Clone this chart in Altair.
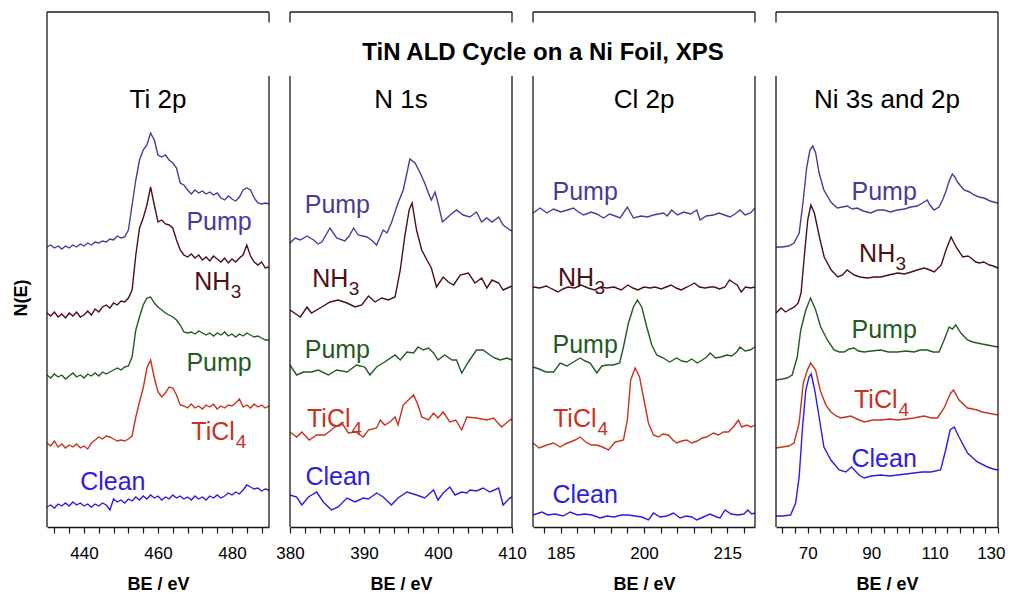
import json
import altair as alt
import pandas as pd

FONT = "Liberation Sans, Arial, Helvetica, sans-serif"
W, H = 222, 515
FRAME = "#1a1a1a"

SERIES = ["Clean", "TiCl4", "Pump1", "NH3", "Pump2"]
COLORS = ["#2d1be6", "#c8321e", "#1f5b23", "#4b1014", "#4a3a9a"]
MAIN_TEXT = ["Clean", "TiCl", "Pump", "NH", "Pump"]
SUB_TEXT = ["", "4", "", "3", ""]

# ---------------- Ti 2p ----------------
TI_BE = list(range(430, 491))
TI_CLEAN = [20, 22, 19, 23, 21, 24, 21, 25, 22, 24, 21, 23, 20, 23, 21, 24, 22, 17, 28, 25,
            27, 24, 28, 26, 30, 27, 31, 28, 32, 29, 31, 27, 30, 28, 32, 29, 31, 28, 30, 27,
            31, 28, 30, 27, 31, 29, 32, 29, 31, 34, 32, 35, 33, 37, 42, 40, 38, 39, 36, 38, 37]
TI_TICL4 = [84, 81, 86, 80, 83, 79, 82, 80, 83, 79, 81, 78, 84, 87, 90, 88, 91, 90, 88, 86,
            87, 86, 88, 91, 110, 125, 139, 159, 167, 149, 135, 130, 134, 140, 139, 132, 122, 121, 119, 123,
            119, 121, 118, 122, 120, 123, 118, 121, 119, 122, 121, 124, 128, 120, 122, 119, 123, 120, 122, 119, 121]
TI_PUMP1 = [152, 149, 153, 150, 152, 148, 151, 154, 150, 152, 149, 153, 151, 154, 151, 155, 153, 155, 157, 159,
            157, 160, 161, 170, 197, 210, 222, 229, 230, 224, 220, 217, 214, 212, 210, 207, 202, 195, 194, 195,
            193, 196, 194, 192, 194, 191, 194, 192, 195, 191, 193, 190, 193, 191, 194, 192, 190, 191, 189, 187, 187]
TI_NH3 = [214, 211, 215, 210, 213, 209, 214, 211, 215, 210, 212, 216, 212, 218, 215, 220, 222, 219, 224, 222,
          226, 225, 229, 237, 272, 299, 309, 322, 340, 322, 305, 307, 303, 302, 299, 287, 277, 272, 270, 273,
          269, 272, 267, 270, 266, 271, 268, 265, 269, 264, 268, 265, 269, 272, 282, 271, 265, 262, 265, 259, 260]
TI_PUMP2 = [280, 282, 279, 281, 278, 281, 279, 282, 280, 283, 281, 284, 282, 285, 284, 286, 285, 288, 287, 291,
            289, 290, 297, 322, 347, 367, 377, 382, 394, 387, 372, 370, 372, 367, 364, 359, 344, 342, 337, 333,
            337, 334, 336, 333, 335, 332, 334, 329, 327, 331, 328, 326, 330, 337, 339, 337, 329, 324, 323, 324, 323]
TI_LABEL_BE = [447.8, 469.0, 476.5, 469.8, 476.5]
TI_LABEL_N = [37, 87, 156, 237, 297]
TI_TICKS = [432, 436, 440, 444, 448, 452, 456, 460, 464, 468, 472, 476, 480, 484, 488]
TI_MAJOR = [440, 460, 480]

# ---------------- N 1s ----------------
N_CLEAN_BE = [380, 380.9, 381.6, 382.5, 383.6, 384.5, 385.6, 386.5, 387.7, 388.8, 389.9, 390.6, 391.7, 392.6,
              393.7, 394.6, 395.8, 397.1, 398.2, 399.4, 400.0, 400.7, 401.6, 402.3, 403.2, 403.9, 404.3, 405.2,
              406.1, 407.0, 408.2, 408.8, 409.7, 410]
N_CLEAN = [32, 30, 22, 30, 35, 25, 17, 20, 29, 25, 29, 28, 34, 30, 22, 29, 35, 32, 29, 37, 27, 34, 40, 32,
           35, 34, 37, 36, 39, 35, 39, 22, 29, 30]
N_TICL4_BE = [380, 380.9, 381.6, 382.6, 383.6, 384.7, 385.9, 387.0, 387.9, 388.9, 389.9, 390.6, 391.7, 392.2,
              392.8, 393.5, 394.2, 394.6, 395.3, 396.0, 396.7, 397.3, 397.8, 398.7, 399.4, 400.0, 400.7, 401.6,
              402.4, 403.2, 403.9, 405.2, 406.6, 407.5, 408.6, 409.7, 410]
N_TICL4 = [95, 90, 95, 87, 92, 92, 99, 104, 94, 95, 90, 97, 99, 107, 102, 105, 110, 102, 122, 127, 132, 122,
           110, 107, 114, 109, 115, 105, 107, 97, 110, 109, 107, 109, 100, 107, 108]
N_PUMP1_BE = [380, 380.9, 381.8, 382.9, 383.8, 385.2, 386.3, 387.7, 389.0, 390.1, 390.8, 391.7, 392.8, 394.2,
              394.9, 395.8, 396.7, 397.3, 398.0, 398.7, 399.4, 400.0, 400.9, 401.9, 402.5, 403.2, 404.1, 405.2,
              406.1, 407.0, 407.7, 408.4, 409.3, 410]
N_PUMP1 = [162, 152, 155, 155, 157, 152, 157, 155, 162, 160, 152, 160, 165, 172, 167, 175, 174, 180, 177, 179,
           174, 167, 172, 167, 167, 154, 165, 177, 177, 172, 169, 167, 169, 167]
N_NH3_BE = [380, 381.4, 382.3, 382.9, 384.3, 385.4, 386.5, 387.7, 388.8, 389.7, 390.6, 391.5, 392.4, 393.3,
            394.2, 394.9, 395.5, 396.1, 396.5, 397.1, 397.8, 398.5, 399.1, 399.8, 400.7, 401.4, 402.1, 403.0,
            404.1, 405.0, 405.9, 406.6, 407.3, 408.2, 408.8, 409.7, 410]
N_NH3 = [217, 210, 220, 214, 220, 225, 227, 224, 220, 222, 231, 225, 229, 227, 230, 257, 290, 317, 324, 297,
         277, 267, 259, 240, 250, 245, 242, 252, 254, 244, 249, 239, 247, 244, 237, 240, 241]
N_PUMP2_BE = [380, 380.7, 381.4, 382.3, 383.2, 383.8, 384.3, 385.4, 386.3, 387.4, 388.0, 388.6, 389.2, 390.4,
              391.0, 391.7, 392.6, 393.1, 393.7, 394.6, 395.3, 395.8, 396.2, 396.9, 397.6, 398.2, 398.7, 399.1,
              399.6, 400.0, 400.6, 401.2, 401.8, 402.5, 403.4, 404.3, 405.2, 405.9, 406.6, 407.3, 408.2, 408.8,
              409.7, 410]
N_PUMP2 = [284, 289, 287, 291, 287, 283, 285, 299, 289, 286, 291, 299, 292, 290, 287, 282, 297, 294, 304, 324,
           337, 354, 368, 364, 354, 344, 334, 327, 335, 324, 305, 309, 313, 317, 312, 310, 315, 305, 309, 305,
           310, 302, 297, 296]
N_LABEL_BE = [386.5, 382.3, 386.4, 383.0, 386.4]
N_LABEL_N = [42, 100, 169, 240, 314]
N_TICKS = [380, 382, 384, 386, 388, 390, 392, 394, 396, 398, 400, 402, 404, 406, 408, 410]
N_MAJOR = [380, 390, 400, 410]

# ---------------- Cl 2p ----------------
CL_CLEAN_BE = [180, 181.6, 182.7, 184.0, 185.4, 186.7, 188.0, 189.3, 190.6, 192.1, 193.3, 194.6, 195.9, 197.2,
               198.4, 199.6, 200.8, 201.7, 202.9, 204.1, 205.3, 206.5, 207.6, 208.6, 209.5, 210.7, 211.9, 213.1,
               213.7, 214.6, 215.7, 216.9, 218.0, 218.7, 219.4, 220]
CL_CLEAN = [12, 15, 12, 13, 11, 15, 12, 13, 12, 9, 11, 10, 12, 12, 11, 10, 7, 14, 10, 11, 14, 9, 11, 10, 7,
            10, 13, 10, 9, 17, 13, 12, 13, 17, 13, 14]
CL_TICL4_BE = [180, 181.1, 182.5, 183.7, 184.9, 185.8, 186.7, 187.6, 188.5, 189.5, 190.5, 191.5, 192.5, 193.6,
               194.8, 195.6, 196.3, 197.0, 197.6, 198.4, 199.2, 200.0, 200.8, 201.7, 202.6, 203.4, 204.4, 205.2,
               205.9, 206.8, 207.7, 208.6, 209.6, 210.5, 211.3, 212.5, 213.4, 214.3, 215.2, 216.1, 217.0, 217.6,
               218.5, 219.3, 220]
CL_TICL4 = [84, 79, 82, 84, 80, 83, 85, 87, 90, 85, 82, 82, 80, 77, 85, 86, 87, 107, 147, 159, 150, 127, 104,
            92, 90, 93, 92, 87, 84, 86, 87, 84, 86, 89, 90, 94, 92, 95, 95, 100, 107, 100, 102, 100, 102]
CL_PUMP1_BE = [180, 181.1, 182.3, 183.7, 184.9, 186.1, 187.3, 188.5, 189.4, 190.3, 191.5, 192.4, 193.4, 194.5,
               195.6, 196.3, 197.2, 198.1, 198.8, 199.6, 200.5, 201.4, 202.3, 203.5, 204.6, 205.9, 206.8, 207.7,
               208.6, 209.6, 210.5, 211.3, 211.9, 212.9, 213.9, 214.9, 215.8, 216.7, 217.3, 218.2, 219.1, 220]
CL_PUMP1 = [160, 158, 155, 155, 164, 161, 165, 169, 166, 164, 154, 161, 162, 162, 164, 180, 204, 220, 227, 220,
            200, 182, 172, 169, 165, 169, 166, 165, 168, 164, 167, 170, 174, 169, 170, 172, 171, 175, 180, 176,
            177, 180]
CL_NH3_BE = [180, 181.2, 182.4, 183.4, 184.5, 185.4, 186.3, 187.5, 188.7, 189.9, 191.1, 192.2, 193.3, 194.6,
             195.9, 197.1, 198.0, 198.9, 200.0, 201.1, 202.0, 203.1, 204.0, 204.9, 205.8, 206.7, 207.8, 209.1,
             210.0, 211.0, 212.0, 212.7, 213.6, 214.6, 215.4, 216.2, 216.8, 217.5, 218.3, 219.2, 220]
CL_NH3 = [240, 239, 241, 238, 235, 238, 240, 239, 242, 239, 237, 240, 239, 240, 237, 242, 239, 237, 240, 239,
          240, 238, 240, 242, 239, 237, 240, 244, 240, 239, 240, 240, 238, 240, 247, 244, 242, 235, 240, 239, 240]
CL_PUMP2_BE = [180, 181.3, 182.5, 183.7, 185, 186.2, 187.3, 188.2, 189.1, 190.5, 191.5, 192.7, 193.8, 194.8,
               195.7, 197.0, 198.1, 199.5, 200.6, 201.7, 202.6, 203.5, 204.2, 205.0, 206.0, 207.2, 208.4, 209.5,
               210.1, 211.2, 212.5, 213.5, 214.5, 215.5, 216.4, 217.3, 218.2, 219.2, 220]
CL_PUMP2 = [314, 319, 314, 318, 315, 317, 319, 315, 312, 315, 313, 309, 313, 311, 309, 320, 309, 311, 310, 312,
            313, 314, 311, 317, 312, 315, 313, 317, 307, 311, 312, 314, 312, 310, 313, 317, 312, 314, 319]
CL_LABEL_BE = [189.4, 183.6, 189.4, 184.5, 189.4]
CL_LABEL_N = [24, 100, 174, 241, 327]
CL_TICKS = [182, 185, 188, 191, 194, 197, 200, 203, 206, 209, 212, 215, 218]
CL_MAJOR = [185, 200, 215]

# ---------------- Ni 3s and 2p ----------------
NI_CLEAN_BE = [60, 62, 64.6, 66.2, 67.3, 68.3, 69.4, 70.4, 71.1, 72.2, 73.6, 75.1, 77.3, 79.9, 82, 83.8, 86.2,
               87.8, 90, 93, 96, 98.3, 101, 103.5, 106, 108.8, 111.9, 113.5, 114.9, 116.2, 117.7, 120.4, 123.5,
               126.7, 128.5, 130]
NI_CLEAN = [11, 11, 12, 24, 50, 97, 137, 150, 153, 137, 110, 80, 67, 57, 55, 60, 52, 49, 51, 52, 51, 52, 53,
            54, 55, 55, 57, 77, 97, 100, 90, 74, 65, 60, 58, 57]
NI_TICL4_BE = [60, 62, 64, 65.7, 67.3, 68.6, 69.9, 70.9, 72.5, 73.9, 75.7, 77.3, 79, 80.4, 82, 83.6, 85.5, 87.8,
               90.5, 93, 96, 98.3, 101, 103.5, 105, 106.7, 109, 110.9, 113, 115.1, 116, 117.7, 120.4, 122, 123.5,
               125, 126.7, 128.3, 130]
NI_TICL4 = [79, 80, 81, 84, 104, 144, 157, 164, 157, 137, 122, 115, 111, 109, 110, 111, 108, 105, 107, 107, 108,
            107, 108, 109, 110, 111, 109, 109, 119, 134, 137, 127, 119, 118, 117, 115, 114, 113, 112]
NI_PUMP1_BE = [60, 62, 63.5, 65.1, 66.7, 67.8, 69.4, 70.9, 72.5, 74.1, 76.2, 78.3, 80, 81.5, 83, 84.6, 86, 87.8,
               90, 93, 95.5, 98.3, 101, 103.5, 105.5, 107.7, 109.5, 111.4, 113, 114.6, 115.6, 116.7, 118.3, 120.4,
               122, 123.5, 125, 126.7, 128.2, 130]
NI_PUMP1 = [147, 148, 149, 152, 170, 197, 217, 229, 217, 200, 187, 177, 175, 175, 178, 179, 176, 175, 176, 177,
            175, 175, 176, 175, 177, 177, 175, 175, 187, 200, 198, 202, 194, 187, 185, 184, 183, 182, 181, 180]
NI_NH3_BE = [60, 61.6, 63, 64.5, 65.8, 67, 67.9, 68.9, 70, 71, 72.1, 73.7, 75.2, 77.4, 79.5, 81, 82.4, 84.7,
             86.5, 88.9, 91, 93.1, 95.5, 98.4, 100.5, 102.6, 104.5, 106.8, 108.5, 109.9, 112.1, 113.6, 115.2,
             116.8, 118.9, 120.5, 121.5, 123, 124.1, 125.5, 127.3, 128.5, 130]
NI_NH3 = [214, 219, 215, 218, 220, 224, 234, 270, 307, 322, 314, 290, 270, 257, 250, 252, 257, 252, 250, 249,
          250, 250, 252, 254, 253, 255, 257, 259, 257, 255, 262, 277, 290, 280, 270, 271, 269, 265, 264, 265,
          262, 261, 259]
NI_PUMP2_BE = [60, 62, 64, 65.7, 67.3, 68.6, 69.7, 70.7, 71.6, 72.5, 73.6, 75.1, 77.3, 79.3, 81, 82.5, 84, 85.6,
               87.5, 89.9, 92, 94.1, 96, 98.3, 100.5, 102.5, 104.5, 106.2, 107.7, 108.5, 109.8, 111.4, 112.5,
               113.5, 114.6, 115.6, 116.4, 117.2, 119.3, 121, 122.5, 124, 125.6, 127.5, 129.8, 130]
NI_PUMP2 = [280, 280, 281, 284, 294, 327, 360, 377, 381, 374, 354, 337, 325, 319, 320, 321, 318, 319, 316, 314,
            317, 317, 315, 317, 318, 320, 321, 324, 327, 322, 317, 320, 327, 335, 346, 353, 350, 345, 337, 335,
            332, 330, 329, 326, 324, 324]
NI_LABEL_BE = [94.1, 84.6, 94.1, 86.2, 94.1]
NI_LABEL_N = [60, 119, 189, 265, 327]
NI_TICKS = [62, 66, 70, 74, 78, 82, 86, 90, 94, 98, 102, 106, 110, 114, 118, 122, 126, 130]
NI_MAJOR = [70, 90, 110, 130]

MAIN_TITLE = "TiN ALD Cycle on a Ni Foil, XPS"
Y_TITLE = "N(E)"
X_TITLE = "BE / eV"

ONE = pd.DataFrame({"k": [0]})
COLOR = alt.Color("series:N", scale=alt.Scale(domain=SERIES, range=COLORS), legend=None)


def vrule(x, y0, y1):
    return alt.Chart(ONE).mark_rule(color=FRAME, strokeWidth=1.3).encode(
        x=alt.value(x), y=alt.value(y0), y2=alt.value(y1))


def panel(title, dom, ticks, major, curves, lab_be, lab_n, left_full, right_full, extras=(), flush=False):
    rows = []
    for key, (be, n) in zip(SERIES, curves):
        for b, v in zip(be, n):
            rows.append({"series": key, "BE": b, "N": v})
    df = pd.DataFrame(rows)
    lab = pd.DataFrame({"series": SERIES, "text": MAIN_TEXT, "sub": SUB_TEXT,
                        "BE": lab_be, "N": lab_n})
    xs = alt.Scale(domain=dom, nice=False, zero=False)
    ys = alt.Scale(domain=[0, 515], nice=False, zero=False)
    axis_kw = dict(
        values=ticks,
        labelExpr="indexof(" + json.dumps(major) + ", datum.value) >= 0 ? datum.label : ''",
        title=X_TITLE, grid=False, labelOverlap=False,
        tickSize=6, tickColor=FRAME, tickWidth=1.2, domainColor=FRAME, domainWidth=1.3,
        labelFont=FONT, labelFontSize=17, labelColor="black", labelPadding=12,
        titleFont=FONT, titleFontSize=18, titleFontWeight="bold", titleColor="black",
        titlePadding=14)
    if flush:
        axis_kw.update(labelFlush=True, labelFlushOffset=7)
    else:
        axis_kw.update(labelFlush=False)
    axis = alt.Axis(**axis_kw)
    X = alt.X("BE:Q", scale=xs, axis=axis)
    Y = alt.Y("N:Q", scale=ys, axis=None)

    lines = alt.Chart(df).mark_line(strokeWidth=1.4).encode(x=X, y=Y, color=COLOR)
    base = alt.Chart(lab).encode(x=X, y=Y, color=COLOR)
    centered = base.transform_filter(
        alt.FieldOneOfPredicate(field="series", oneOf=["Clean", "Pump1", "Pump2"])
    ).mark_text(align="center", baseline="alphabetic", font=FONT, fontSize=25).encode(text="text:N")
    lefts = base.transform_filter(
        alt.FieldOneOfPredicate(field="series", oneOf=["TiCl4", "NH3"])
    ).mark_text(align="left", baseline="alphabetic", font=FONT, fontSize=25).encode(text="text:N")
    sub4 = base.transform_filter(alt.datum.series == "TiCl4").mark_text(
        align="left", baseline="alphabetic", font=FONT, fontSize=19, dx=44.5, dy=8).encode(text="sub:N")
    sub3 = base.transform_filter(alt.datum.series == "NH3").mark_text(
        align="left", baseline="alphabetic", font=FONT, fontSize=19, dx=36.5, dy=8).encode(text="sub:N")

    ttl = alt.Chart(ONE).mark_text(text=title, font=FONT, fontSize=26, color="black",
                                   align="center", baseline="alphabetic").encode(
        x=alt.value(W / 2), y=alt.value(96))
    top = alt.Chart(ONE).mark_rule(color=FRAME, strokeWidth=1.3).encode(
        x=alt.value(0), x2=alt.value(W), y=alt.value(0))
    frame = [top]
    if left_full:
        frame.append(vrule(0, 0, H))
    else:
        frame += [vrule(0, 0, 10.5), vrule(0, 64, H)]
    if right_full:
        frame.append(vrule(W, 0, H))
    else:
        frame += [vrule(W, 0, 10.5), vrule(W, 64, H)]

    layers = [lines, centered, lefts, sub4, sub3, ttl] + frame + list(extras)
    return alt.layer(*layers).properties(width=W, height=H)


ylab = alt.Chart(ONE).mark_text(text=Y_TITLE, font=FONT, fontSize=18, fontWeight="bold",
                                color="black", angle=270, align="center", baseline="middle").encode(
    x=alt.value(-25), y=alt.value(286))
main_title = alt.Chart(ONE).mark_text(text=MAIN_TITLE, font=FONT, fontSize=24, fontWeight="bold",
                                      color="black", align="center", baseline="alphabetic").encode(
    x=alt.value(10), y=alt.value(48))

p1 = panel("Ti 2p", [430, 490], TI_TICKS, TI_MAJOR,
           [(TI_BE, TI_CLEAN), (TI_BE, TI_TICL4), (TI_BE, TI_PUMP1), (TI_BE, TI_NH3), (TI_BE, TI_PUMP2)],
           TI_LABEL_BE, TI_LABEL_N, True, False, extras=[ylab])
p2 = panel("N 1s", [380, 410], N_TICKS, N_MAJOR,
           [(N_CLEAN_BE, N_CLEAN), (N_TICL4_BE, N_TICL4), (N_PUMP1_BE, N_PUMP1),
            (N_NH3_BE, N_NH3), (N_PUMP2_BE, N_PUMP2)],
           N_LABEL_BE, N_LABEL_N, False, False)
p3 = panel("Cl 2p", [180, 220], CL_TICKS, CL_MAJOR,
           [(CL_CLEAN_BE, CL_CLEAN), (CL_TICL4_BE, CL_TICL4), (CL_PUMP1_BE, CL_PUMP1),
            (CL_NH3_BE, CL_NH3), (CL_PUMP2_BE, CL_PUMP2)],
           CL_LABEL_BE, CL_LABEL_N, False, False, extras=[main_title])
p4 = panel("Ni 3s and 2p", [60, 130], NI_TICKS, NI_MAJOR,
           [(NI_CLEAN_BE, NI_CLEAN), (NI_TICL4_BE, NI_TICL4), (NI_PUMP1_BE, NI_PUMP1),
            (NI_NH3_BE, NI_NH3), (NI_PUMP2_BE, NI_PUMP2)],
           NI_LABEL_BE, NI_LABEL_N, False, True, flush=True)

chart = alt.hconcat(p1, p2, p3, p4, spacing=21, bounds="flush").resolve_scale(
    x="independent", y="independent", color="shared"
).properties(
    padding={"left": 5, "top": 3, "right": 0, "bottom": 0},
    background="white",
).configure_view(stroke=None)

chart.save("out.html", embed_options={"renderer": "svg", "actions": False})
